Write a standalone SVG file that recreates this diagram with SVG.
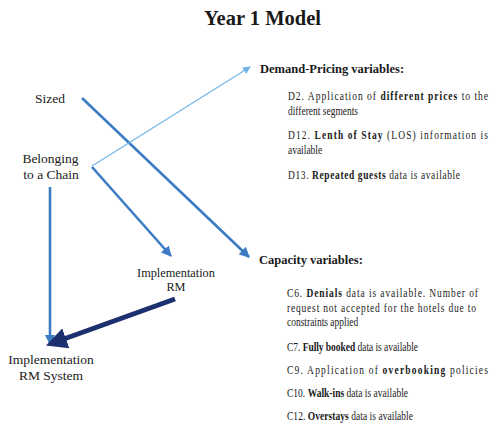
<svg xmlns="http://www.w3.org/2000/svg" width="490" height="429" viewBox="0 0 490 429">
  <defs>
    <marker id="headBlue" viewBox="0 0 10 10" refX="9" refY="5" markerWidth="4" markerHeight="4" orient="auto" markerUnits="strokeWidth">
      <path d="M0,0 L10,5 L0,10 Z" fill="#3b7cc4"/>
    </marker>
    <marker id="headLight" viewBox="0 0 10 10" refX="9" refY="5" markerWidth="7" markerHeight="7" orient="auto" markerUnits="strokeWidth">
      <path d="M0,0 L10,5 L0,10 Z" fill="#6fb3e6"/>
    </marker>
    <marker id="headNavy" viewBox="0 0 10 10" refX="8" refY="5" markerWidth="4.2" markerHeight="4.2" orient="auto" markerUnits="strokeWidth">
      <path d="M0,0 L10,5 L0,10 Z" fill="#1c2f6e"/>
    </marker>
  </defs>
  <style>
    text { font-family: "Liberation Serif", "Times New Roman", serif; fill: #1a1a1a; }
    .title { font-size: 20.5px; font-weight: bold; text-anchor: middle; }
    .node { font-size: 13.5px; text-anchor: middle; }
    .node-sm { font-size: 12.3px; text-anchor: middle; }
    .head { font-size: 12.5px; font-weight: bold; }
    .item { font-size: 12px; }
    .b { font-weight: bold; }
    .blue { stroke: #3b7cc4; stroke-width: 2.6; fill: none; marker-end: url(#headBlue); }
    .light { stroke: #6fb3e6; stroke-width: 1.1; fill: none; marker-end: url(#headLight); }
    .navy { stroke: #1c2f6e; stroke-width: 5; fill: none; marker-end: url(#headNavy); }
  </style>

  <text class="title" x="262.5" y="25">Year 1 Model</text>

  <g id="connectors">
    <line class="blue" x1="82" y1="98" x2="249" y2="257"/>
    <line class="light" x1="92" y1="166" x2="250" y2="67"/>
    <line class="blue" x1="92" y1="167" x2="171" y2="256"/>
    <line class="blue" x1="50" y1="187" x2="50" y2="344"/>
    <line class="navy" x1="175" y1="299" x2="50" y2="344"/>
  </g>

  <g id="sized">
    <text class="node" x="50" y="103">Sized</text>
  </g>

  <g id="chain">
    <text class="node" x="50.5" y="163">Belonging</text>
    <text class="node" x="51" y="179">to a Chain</text>
  </g>

  <g id="impl-rm">
    <text class="node-sm" x="176" y="277">Implementation</text>
    <text class="node-sm" x="176" y="291">RM</text>
  </g>

  <g id="impl-rm-system">
    <text class="node" x="51" y="364">Implementation</text>
    <text class="node" x="51" y="380">RM System</text>
  </g>

  <g id="demand-pricing" xml:space="preserve">
    <text class="head" x="260" y="73">Demand-Pricing  variables:</text>
    <!-- item lines are set in a condensed face; long lines are justified -->
    <g transform="matrix(0.79 0 0 1 60.48 0)">
      <text class="item" x="288" y="100" textLength="253.2" lengthAdjust="spacing">D2. Application of <tspan class="b">different prices</tspan> to the</text>
      <text class="item" x="288" y="115">different segments</text>
      <text class="item" x="288" y="139" textLength="253.2" lengthAdjust="spacing">D12. <tspan class="b">Lenth of Stay</tspan> (LOS) information is</text>
      <text class="item" x="288" y="154">available</text>
      <text class="item" x="288" y="179" textLength="217.7" lengthAdjust="spacing">D13. <tspan class="b">Repeated guests</tspan> data is available</text>
    </g>
  </g>

  <g id="capacity" xml:space="preserve">
    <text class="head" x="259" y="264">Capacity variables:</text>
    <g transform="matrix(0.79 0 0 1 60.27 0)">
      <text class="item" x="287" y="297" textLength="241.8" lengthAdjust="spacing">C6. <tspan class="b">Denials</tspan> data is available.  Number of</text>
      <text class="item" x="287" y="312" textLength="239.2" lengthAdjust="spacing">request not accepted for the hotels due to</text>
      <text class="item" x="287" y="326">constraints applied</text>
      <text class="item" x="287" y="351" textLength="165.8" lengthAdjust="spacing">C7. <tspan class="b">Fully booked</tspan> data is available</text>
      <text class="item" x="287" y="374" textLength="254.4" lengthAdjust="spacing">C9. Application of <tspan class="b">overbooking</tspan> policies</text>
      <text class="item" x="287" y="397" textLength="153.2" lengthAdjust="spacing">C10. <tspan class="b">Walk-ins</tspan> data is available</text>
      <text class="item" x="287" y="420" textLength="159.5" lengthAdjust="spacing">C12. <tspan class="b">Overstays</tspan> data is available</text>
    </g>
  </g>
</svg>
